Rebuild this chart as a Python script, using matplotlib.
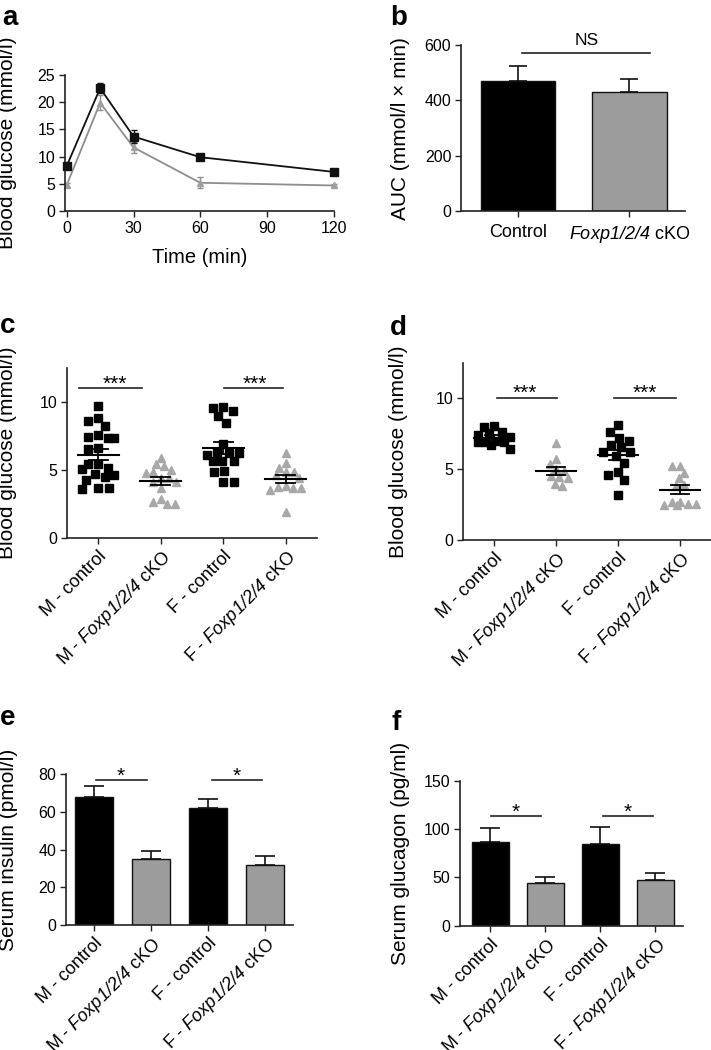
import numpy as np
import matplotlib
matplotlib.use("Agg")
import matplotlib.pyplot as plt

plt.rcParams['font.family'] = ['Liberation Sans', 'DejaVu Sans']
plt.rcParams['mathtext.fontset'] = 'custom'
# alles im Mathtext kursiv (auch Ziffern)
plt.rcParams['mathtext.rm'] = 'Liberation Sans:italic'
plt.rcParams['mathtext.it'] = 'Liberation Sans:italic'
plt.rcParams['mathtext.default'] = 'rm'

# --- Daten ---
# a: GTT Verlauf
zeit = [0, 15, 30, 60, 120]
ctrl_glc = [8.3, 22.6, 13.7, 9.9, 7.2]
ctrl_err = [0.4, 0.9, 1.2, 0.6, 0.3]
cko_glc = [4.8, 19.9, 11.7, 5.2, 4.7]
cko_err = [0.3, 1.4, 1.0, 1.0, 0.3]

# b: AUC
auc_gruppen = ['Control', '$Foxp1/2/4$ cKO']
auc_werte = [472, 429]
auc_err = [53, 48]

gruppen = ['M - control', 'M - $Foxp1/2/4$ cKO',
           'F - control', 'F - $Foxp1/2/4$ cKO']

# c: Blutzucker Einzelwerte
c_m_ctrl = [9.73, 8.60, 8.82, 8.25, 7.32, 7.42, 7.59, 7.32, 6.61, 6.54, 5.45,
            5.45, 5.08, 5.18, 4.64, 4.52, 4.72, 4.30, 3.66, 3.61, 3.66]
c_m_cko = [5.92, 5.45, 5.31, 5.01, 4.89, 4.81, 4.40, 4.40, 4.10, 4.15, 3.66,
           2.87, 2.63, 2.48, 2.48]
c_f_ctrl = [9.60, 9.31, 9.56, 8.94, 8.45, 6.90, 6.24, 6.30, 6.10, 6.24, 5.67,
            5.67, 5.70, 4.84, 4.94, 4.15, 4.15]
c_f_cko = [6.24, 5.50, 5.18, 4.89, 4.89, 4.64, 4.45, 3.75, 3.65, 3.55, 3.70,
           3.85, 1.94]

# d: Blutzucker Einzelwerte
d_m_ctrl = [8.05, 7.60, 7.55, 8.00, 6.95, 7.00, 6.90, 6.45, 6.70, 6.95, 7.40, 7.30]
d_m_cko = [6.82, 5.69, 5.35, 5.00, 4.90, 4.42, 4.40, 4.55, 3.83, 3.95]
d_f_ctrl = [8.10, 7.62, 7.00, 7.20, 6.72, 6.60, 6.20, 6.25, 5.95, 5.45, 4.82,
            4.60, 4.23, 3.20]
d_f_cko = [5.22, 5.22, 4.75, 4.35, 3.90, 3.80, 2.65, 2.55, 2.50, 2.50, 2.55, 2.70]

# e: Insulin
insulin = [68.0, 34.8, 61.8, 31.9]
insulin_err = [5.8, 4.4, 5.1, 4.6]

# f: Glucagon
glucagon = [86.3, 44.2, 84.5, 47.0]
glucagon_err = [14.7, 6.5, 17.5, 7.2]

SCHWARZ = '#000000'
GRAU = '#9c9c9c'
ACHSE = '#222222'


def achsen_stil(ax):
    for s in ['top', 'right']:
        ax.spines[s].set_visible(False)
    for s in ['left', 'bottom']:
        ax.spines[s].set_color(ACHSE)
        ax.spines[s].set_linewidth(1.2)
    ax.tick_params(direction='out', length=4, width=1, color=ACHSE,
                   labelsize=11.5, pad=3)


def kat_ticks(ax, labels):
    ax.set_xticks(range(len(labels)))
    ax.set_xticklabels(labels, rotation=45, ha='right', va='top',
                       rotation_mode='anchor', fontsize=13)


def sig(ax, x0, x1, y, text, xt, size=15, off=-1):
    ax.plot([x0, x1], [y, y], color=ACHSE, lw=1.2, clip_on=False)
    ax.annotate(text, (xt, y), xytext=(0, off), textcoords='offset points',
                ha='center', va='baseline', fontsize=size, annotation_clip=False)


def swarm(ax, xc, werte, d, grenze):
    # Punkte im Pixelraum nebeneinander legen, Breite begrenzt (wie Prism)
    ypx = ax.transData.transform(np.column_stack([np.full(len(werte), xc), werte]))[:, 1]
    px_x = ax.transData.transform((1, 0))[0] - ax.transData.transform((0, 0))[0]
    gmax = grenze * px_x
    xs = np.zeros(len(werte))
    fertig = []

    def abstand(k, i):
        if not fertig:
            return np.inf
        return min(np.hypot(k - xs[j], ypx[i] - ypx[j]) for j in fertig)

    for i in np.argsort(-ypx):
        kand = [0.0]
        for j in fertig:
            dy = ypx[i] - ypx[j]
            if abs(dy) < d:
                w = np.sqrt(d * d - dy * dy)
                kand += [xs[j] - w, xs[j] + w]
        kand = [k for k in kand if abs(k) <= gmax + 1e-6]
        gut = [k for k in kand if abs(k) < 1e-9 or abstand(k, i) >= d - 1e-6]
        gut = [k for k in kand if abstand(k, i) >= d - 1e-6]
        if gut:
            xs[i] = min(gut, key=abs)
        else:
            raster = np.linspace(-gmax, gmax, 41)
            xs[i] = max(raster, key=lambda k: abstand(k, i) - 0.01 * abs(k))
        fertig.append(i)
    return xs / px_x


def streu(ax, daten):
    for i, werte in enumerate(daten):
        werte = np.asarray(werte)
        if i % 2 == 0:
            dx = swarm(ax, i, werte, 10.5, 0.26)
            ax.plot(i + dx, werte, ls='none', marker='s', ms=5.6, color=SCHWARZ,
                    mec=SCHWARZ, zorder=2, clip_on=False)
        else:
            dx = swarm(ax, i, werte, 8.0, 0.27)
            ax.plot(i + dx, werte, ls='none', marker='^', ms=5.6, color='#a8a8a8',
                    mec='#a8a8a8', zorder=2, clip_on=False)
        m = werte.mean()
        sem = werte.std(ddof=1) / np.sqrt(len(werte))
        ax.plot([i - 0.33, i + 0.33], [m, m], color='black', lw=1.5, zorder=3)
        ax.plot([i - 0.15, i + 0.15], [m - sem, m - sem], color='black', lw=1.3, zorder=3)
        ax.plot([i - 0.15, i + 0.15], [m + sem, m + sem], color='black', lw=1.3, zorder=3)
        ax.plot([i, i], [m - sem, m + sem], color='black', lw=1.3, zorder=3)


def balken(ax, werte, fehler):
    farben = [SCHWARZ, GRAU, SCHWARZ, GRAU]
    x = np.arange(len(werte))
    ax.bar(x, werte, width=0.67, color=farben, edgecolor='#111111', linewidth=1.0, zorder=2)
    ax.errorbar(x, werte, yerr=[np.zeros(len(werte)), fehler], fmt='none',
                ecolor='#111111', elinewidth=1.2, capsize=7, capthick=1.2, zorder=1)


fig = plt.figure(figsize=(7.11, 10.5), dpi=100)

# ---- a ----
ax = fig.add_axes([0.0914, 0.799, 0.378, 0.1295])
achsen_stil(ax)
ax.errorbar(zeit, cko_glc, yerr=cko_err, fmt='-^', color='#8e8e8e', mfc='#a0a0a0',
            mec='#a0a0a0', ms=4.8, lw=1.3, elinewidth=1, capsize=2.5, clip_on=False, zorder=2)
ax.errorbar(zeit, ctrl_glc, yerr=ctrl_err, fmt='-s', color='#111111', ms=5.6, lw=1.3,
            elinewidth=1, capsize=2.5, clip_on=False, zorder=3)
ax.set_xlim(-0.8, 120)
ax.set_ylim(0, 25)
ax.set_xticks([0, 30, 60, 90, 120])
ax.set_yticks([0, 5, 10, 15, 20, 25])
ax.set_xlabel('Time (min)', fontsize=14.5, labelpad=9)
ax.set_ylabel('Blood glucose (mmol/l)', fontsize=15)
ax.yaxis.set_label_coords(-0.178, 0.5)

# ---- b ----
ax = fig.add_axes([0.6484, 0.799, 0.315, 0.158])
achsen_stil(ax)
xb = np.arange(len(auc_werte))
ax.bar(xb, auc_werte, width=0.67, color=[SCHWARZ, GRAU], edgecolor='#111111', linewidth=1.0, zorder=2)
ax.errorbar(xb, auc_werte, yerr=[np.zeros(2), auc_err], fmt='none', ecolor='#111111',
            elinewidth=1.2, capsize=6.5, capthick=1.2, zorder=1)
ax.set_xlim(-0.51, 1.5)
ax.set_ylim(0, 600)
ax.set_yticks([0, 200, 400, 600])
ax.set_xticks(xb)
ax.set_xticklabels(auc_gruppen, fontsize=13)
ax.tick_params(axis='x', pad=5)
ax.set_ylabel('AUC (mmol/l × min)', fontsize=15)
ax.yaxis.set_label_coords(-0.228, 0.5)
sig(ax, 0.04, 1.19, 571, 'NS', 0.62, size=12.5, off=5.8)

# ---- c ----
ax = fig.add_axes([0.0942, 0.4876, 0.3516, 0.1619])
achsen_stil(ax)
ax.set_xlim(-0.5, 3.5)
ax.set_ylim(0, 12.5)
ax.set_yticks([0, 5, 10])
kat_ticks(ax, gruppen)
streu(ax, [c_m_ctrl, c_m_cko, c_f_ctrl, c_f_cko])
ax.set_ylabel('Blood glucose (mmol/l)', fontsize=15)
ax.yaxis.set_label_coords(-0.2, 0.5)
sig(ax, -0.3, 0.7, 11.0, '***', 0.27)
sig(ax, 2.02, 2.95, 11.0, '***', 2.5)

# ---- d ----
ax = fig.add_axes([0.6512, 0.4857, 0.3488, 0.1686])
achsen_stil(ax)
ax.set_xlim(-0.5, 3.5)
ax.set_ylim(0, 12.5)
ax.set_yticks([0, 5, 10])
kat_ticks(ax, gruppen)
streu(ax, [d_m_ctrl, d_m_cko, d_f_ctrl, d_f_cko])
ax.set_ylabel('Blood glucose (mmol/l)', fontsize=15)
ax.yaxis.set_label_coords(-0.222, 0.5)
sig(ax, 0.05, 1.02, 10.05, '***', 0.5)
sig(ax, 1.93, 2.94, 10.05, '***', 2.44)

# ---- e ----
ax = fig.add_axes([0.0928, 0.119, 0.3193, 0.1438])
achsen_stil(ax)
balken(ax, insulin, insulin_err)
ax.set_xlim(-0.5, 3.5)
ax.set_ylim(0, 80)
ax.set_yticks([0, 20, 40, 60, 80])
kat_ticks(ax, gruppen)
ax.set_ylabel('Serum insulin (pmol/l)', fontsize=15)
ax.yaxis.set_label_coords(-0.211, 0.5)
sig(ax, 0.03, 0.92, 76.8, '*', 0.47)
sig(ax, 2.07, 2.96, 76.8, '*', 2.5)

# ---- f ----
ax = fig.add_axes([0.647, 0.1184, 0.3136, 0.1381])
achsen_stil(ax)
balken(ax, glucagon, glucagon_err)
ax.set_xlim(-0.55, 3.5)
ax.set_ylim(0, 150)
ax.set_yticks([0, 50, 100, 150])
kat_ticks(ax, gruppen)
ax.set_ylabel('Serum glucagon (pg/ml)', fontsize=15)
ax.yaxis.set_label_coords(-0.224, 0.5)
sig(ax, 0.01, 0.93, 113, '*', 0.46)
sig(ax, 2.05, 2.96, 113, '*', 2.49)

# Panelbuchstaben
for buchst, x, y in [('a', 2, 25), ('b', 390, 25), ('c', 0, 333),
                     ('d', 390, 335), ('e', 0, 725), ('f', 392, 730)]:
    fig.text(x / 711, 1 - y / 1050, buchst, fontsize=20, fontweight='bold',
             ha='left', va='baseline')

fig.savefig('out.png', dpi=100)
